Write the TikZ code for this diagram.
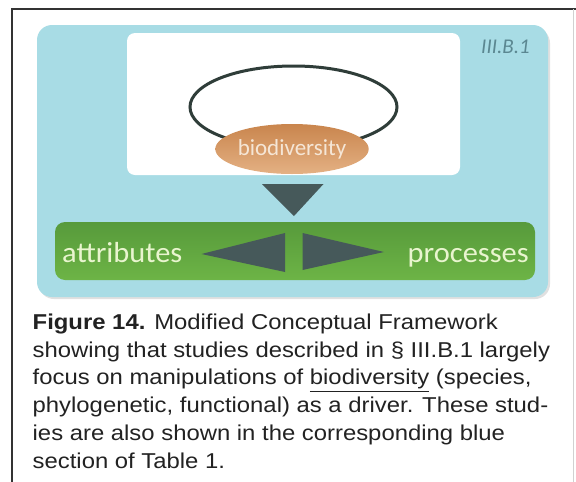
\documentclass[tikz,border=0pt]{standalone}
\usepackage{fontspec}
\setmainfont{Liberation Sans}[FakeStretch=1.11]
\newfontfamily\calibrifont{Carlito}
\newfontfamily\calibriwide{Carlito}[FakeStretch=1.05]
\usetikzlibrary{positioning,shapes.geometric}

\definecolor{panelcyan}{HTML}{A8DCE5}
\definecolor{loopgray}{HTML}{2F3D39}
\definecolor{biotop}{HTML}{C9854D}
\definecolor{biobottom}{HTML}{E4B184}
\definecolor{biotext}{HTML}{F5E6D6}
\definecolor{arrowgray}{HTML}{46595A}
\definecolor{bartop}{HTML}{579A3B}
\definecolor{barbottom}{HTML}{6DB446}
\definecolor{bartextcol}{HTML}{E9F5CF}
\definecolor{seccol}{HTML}{5B8791}
\definecolor{captext}{HTML}{222222}

\tikzset{
    bionode/.style={ellipse, minimum width=122, minimum height=50, inner sep=0,
        top color=biotop, bottom color=biobottom,
        text=biotext, font=\calibrifont\fontsize{23}{23}\selectfont},
    greenbar/.style={rounded corners=10, minimum width=480, minimum height=58,
        inner sep=0, top color=bartop, bottom color=barbottom},
    bartext/.style={inner sep=0, text=bartextcol, font=\calibriwide\fontsize{29}{29}\selectfont},
    seclabel/.style={inner sep=0, text=seccol, font=\calibrifont\itshape\fontsize{21}{21}\selectfont},
    captionbox/.style={inner sep=0, align=left, text=captext, font=\fontsize{21.5}{27.8}\selectfont}
}

\begin{document}
\begin{tikzpicture}[x=1pt, y=-1pt]
    \useasboundingbox (0,0) rectangle (576,482);
    \fill[white] (0,0) rectangle (576,482);

    % the frame
    \draw[line width=1.5, black!80] (12,482) -- (12,9) -- (576,9);
    \draw[line width=1, black!18] (573,9) -- (573,482);

    % the panel
    \fill[black!12, rounded corners=15] (39,28) rectangle (550,299);
    \fill[panelcyan, rounded corners=15] (37,25) rectangle (548,297);
    \fill[white, rounded corners=8] (127,33) rectangle (460,175);
    \node[seclabel] (sec) at (505.5,47) {III.B.1};

    % the loop
    \draw[line width=3, loopgray] (293.5,107) ellipse [x radius=103.5, y radius=41];
    \node[bionode] (bio) at (292,149) {biodiversity};

    % the driver
    \fill[arrowgray] (262,184) -- (323.5,184) -- (294,216) -- cycle;

    % the body
    \node[greenbar] (bar) at (295,251) {};
    \node[bartext, anchor=base west] (attr) at (62,262.5) {attributes};
    \node[bartext, anchor=base east] (proc) at (529,262) {processes};
    \fill[arrowgray] (285,233) -- (285,272) -- (201.5,254) -- cycle;
    \fill[arrowgray] (302.5,233) -- (302.5,270) -- (384,252) -- cycle;

    % the caption
    \node[captionbox, anchor=north west] (cap) at (32.5,313.5) {%
        \textbf{Figure 14.} Modified Conceptual Framework\\
        showing that studies described in § III.B.1 largely\\
        focus on manipulations of \underline{biodiversity} (species,\\
        phylogenetic, functional) as a driver. These stud-\\
        ies are also shown in the corresponding blue\\
        section of Table 1.};
\end{tikzpicture}
\end{document}
